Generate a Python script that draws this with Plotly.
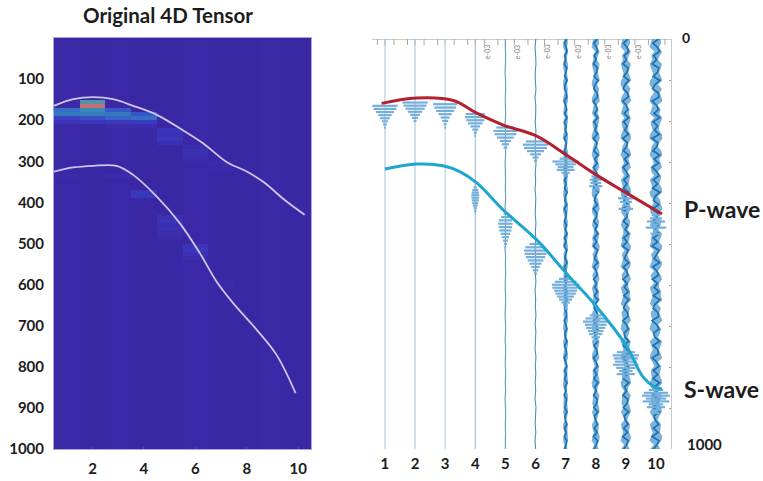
import numpy as np
import plotly.graph_objects as go

W, H = 763, 481
H_EFF = 473  # vertical scale the rendered page shows

# ---- left panel: heat map ----
col_count = 10
row_count = 100
base_level = [0.015, 0.01, 0.015, 0.01, 0.01, 0.015, 0.01, 0.01, 0.015, 0.01]
cell_col = [1, 1, 1, 1,  2, 2, 2, 2, 2, 2,  3, 3, 3, 3, 3,  4, 4, 4, 4,  5, 5, 5, 5,  6, 6, 6, 6,  7, 7,
            1, 3, 4, 4, 5, 5, 5, 5, 5, 5, 6, 6, 6, 6, 7, 7]
cell_row = [17, 18, 19, 20,  15, 16, 17, 18, 19, 20,  17, 18, 19, 20, 21,  18, 19, 20, 21,  22, 23, 24, 25,  26, 27, 28, 29,  30, 31,
            33, 33, 37, 38, 43, 44, 45, 46, 47, 48, 50, 51, 52, 53, 59, 60]
cell_val = [0.38, 0.42, 0.16, 0.08,  0.62, 0.98, 0.50, 0.44, 0.22, 0.10,  0.28, 0.42, 0.34, 0.10, 0.05,  0.26, 0.38, 0.12, 0.05,
            0.09, 0.07, 0.10, 0.06,  0.05, 0.07, 0.05, 0.04,  0.035, 0.03,
            0.035, 0.04, 0.11, 0.11, 0.07, 0.09, 0.06, 0.07, 0.05, 0.04, 0.09, 0.10, 0.07, 0.05, 0.03, 0.03]
heat_colors = [[0, "#3a25a2"], [0.15, "#3b3ec6"], [0.35, "#3268c8"], [0.55, "#3a95b0"], [0.75, "#7c8f9c"], [1, "#cc6a72"]]

left_p_x = [0.5, 1.25, 2.03, 2.8, 3.58, 4.5, 5.53, 6.3, 7.2, 8.0, 8.64, 9.55, 10.25]
left_p_y = [165, 149, 144, 149, 165, 187, 225, 256, 301, 325, 350, 398, 430]
left_s_x = [0.5, 1.25, 2.03, 2.94, 3.58, 4.5, 5.4, 6.18, 6.83, 7.47, 8.39, 9.16, 9.9]
left_s_y = [325, 315, 311, 311, 333, 386, 451, 524, 593, 645, 710, 771, 864]

# ---- right panel: traces ----
trace_ids = [1, 2, 3, 4, 5, 6, 7, 8, 9, 10]
trace_colors = ["#a9cbdf", "#a9c8dc", "#b2d0e2", "#9dbdd2", "#5f9cc0", "#4b90bd", "#5fa3d3", "#5fa3d3", "#5fa3d3", "#5fa3d3"]
trace_fills = {7: "#7ab4dc", 8: "#7ab4dc", 9: "#7ab4dc", 10: "#7ab4dc"}

noise_5 = [1, -1, 2, 0, -2, 1, 2, -1, 0, 2, -2, 1, -1, 2, 1, -2, 0, 1, -1, 2, -2, 0, 2, -1, 1,
           -2, 1, 0, 2, -1, -1, 2, 0, -2, 1, 1, -2, 2, 0, -1, 2, -1, 1, -2, 0, 2, -1, 1, 0, -1]
noise_6 = [2, -3, 1, 3, -2, -1, 3, -3, 2, 1, -2, 3, -1, -3, 2, 3, -2, 1, -3, 2, 0, -2, 3, -1, 2,
           -3, 1, 2, -2, 3, -3, 1, -1, 3, -2, 2, 0, -3, 3, -1, 2, -2, 1, -3, 3, 0, -2, 2, -3, 1]
noise_7 = [5, -6, 3, 7, -4, 1, -7, 6, 2, -5, 7, -2, -6, 4, 6, -7, 1, 5, -4, 7, -6, 3, -2, 6, -7,
           4, 2, -6, 7, -3, 5, -7, 1, 6, -5, 3, -6, 7, -1, -4, 6, -7, 4, 2, -6, 5, -2, 7, -5, 3,
           -7, 6, 1, -4, 7, -6, 2, 5, -7, 3, -3, 6, -5, 7, -1, -6, 4, 5, -7, 2, 6, -4, -2, 7, -6,
           3, 5, -7, 1, 6, -5, 4, -6, 7, -3, 2, -7, 5, 3, -6, 7, -4, -1, 6, -5, 4, -7, 6, 2, -5]
noise_8 = [8, -10, 4, 11, -7, 2, -11, 9, 5, -9, 12, -3, -10, 7, 10, -12, 1, 8, -6, 11, -9, 5, -4, 10, -12,
           6, 3, -10, 12, -5, 8, -11, 2, 10, -8, 5, -11, 12, -2, -7, 9, -12, 6, 4, -10, 8, -3, 11, -8, 5,
           -12, 10, 2, -6, 11, -10, 3, 8, -11, 5, -5, 10, -8, 12, -2, -9, 6, 8, -12, 3, 10, -7, -3, 11, -9,
           5, 8, -11, 2, 10, -8, 6, -10, 12, -5, 3, -11, 8, 5, -10, 11, -6, -2, 9, -8, 7, -12, 10, 3, -8]
noise_9 = [11, -13, 6, 15, -9, 3, -15, 12, 7, -12, 16, -4, -14, 9, 13, -16, 2, 11, -8, 15, -12, 7, -6, 14, -16,
           8, 4, -13, 16, -7, 11, -15, 3, 13, -11, 7, -14, 16, -3, -10, 12, -16, 8, 5, -13, 11, -4, 15, -11, 7,
           -16, 13, 3, -8, 15, -13, 4, 11, -15, 7, -7, 13, -11, 16, -3, -12, 8, 11, -16, 4, 13, -9, -4, 15, -12,
           7, 11, -15, 3, 13, -11, 8, -13, 16, -7, 4, -15, 11, 7, -13, 15, -8, -3, 12, -11, 9, -16, 13, 4, -11]
noise_10 = [14, -16, 8, 19, -12, 4, -19, 15, 9, -15, 20, -5, -18, 12, 16, -20, 3, 14, -10, 19, -15, 9, -8, 18, -20,
            10, 5, -16, 20, -9, 14, -19, 4, 16, -14, 9, -18, 20, -4, -13, 15, -20, 10, 6, -16, 14, -5, 19, -14, 9,
            -20, 16, 4, -10, 19, -16, 5, 14, -19, 9, -9, 16, -14, 20, -4, -15, 10, 14, -20, 5, 16, -12, -5, 19, -15,
            9, 14, -19, 4, 16, -14, 10, -16, 20, -9, 5, -19, 14, 9, -16, 19, -10, -4, 15, -14, 12, -20, 16, 5, -14]
trace_noise = {5: noise_5, 6: noise_6, 7: noise_7, 8: noise_8, 9: noise_9, 10: noise_10}

# wavelets: arrival top and bottom (depth), half-width envelope top-to-bottom (trace units)
p_top = [163, 155, 159, 183, 216, 250, 292, 335, 380, 430]
p_bottom = [216, 200, 216, 236, 265, 297, 333, 375, 423, 475]
p_env = [
    [0.42, 0.38, 0.30, 0.22, 0.16, 0.10, 0.06, 0.03],
    [0.42, 0.38, 0.32, 0.24, 0.16, 0.10, 0.05],
    [0.40, 0.36, 0.30, 0.22, 0.15, 0.10, 0.05, 0.03],
    [0.32, 0.34, 0.30, 0.24, 0.16, 0.10, 0.05, 0.03],
    [0.30, 0.40, 0.36, 0.28, 0.18, 0.12, 0.06],
    [0.32, 0.42, 0.38, 0.28, 0.18, 0.10, 0.05],
    [0.20, 0.44, 0.34, 0.26, 0.30, 0.14, 0.08],
    [0.14, 0.20, 0.18, 0.22, 0.12, 0.06],
    [0.16, 0.26, 0.20, 0.12, 0.24, 0.10],
    [0.14, 0.20, 0.30, 0.12, 0.34, 0.10, 0.18],
]
s_top = [None, None, None, 362, 426, 500, 585, 674, 764, 856]
s_bottom = [None, None, None, 425, 508, 572, 657, 735, 825, 912]
s_env = [
    [], [], [],
    [0.05, 0.10, 0.12, 0.13, 0.13, 0.12, 0.10, 0.08, 0.05, 0.04, 0.02],
    [0.06, 0.14, 0.22, 0.24, 0.22, 0.20, 0.16, 0.12, 0.08, 0.05, 0.03],
    [0.20, 0.34, 0.38, 0.36, 0.32, 0.26, 0.20, 0.14, 0.09, 0.05],
    [0.22, 0.36, 0.46, 0.44, 0.38, 0.34, 0.28, 0.22, 0.14, 0.08, 0.04],
    [0.20, 0.34, 0.42, 0.36, 0.32, 0.26, 0.22, 0.14, 0.08],
    [0.30, 0.44, 0.40, 0.36, 0.42, 0.32, 0.22, 0.30, 0.12],
    [0.24, 0.40, 0.46, 0.34, 0.44, 0.24, 0.30, 0.14, 0.10],
]

right_p_x = [0.89, 2.05, 3.27, 4.05, 4.93, 6.04, 7.03, 8.03, 9.03, 10.2]
right_p_y = [157, 144, 150, 181, 210, 237, 283, 332, 376, 427]
right_s_x = [1, 2.05, 2.93, 3.5, 4.05, 4.93, 6.04, 7.08, 8.03, 9.03, 9.57, 9.97, 10.2]
right_s_y = [317, 305, 309, 324, 351, 417, 490, 576, 653, 750, 824, 849, 854]

top_tick_x = [0.75, 1.0, 1.3, 1.75, 2.0, 2.3, 2.75, 3.0, 3.3, 3.75, 4.0, 4.3, 4.75, 5.0, 5.3,
              5.75, 6.0, 6.3, 6.75, 7.0, 7.3, 7.75, 8.0, 8.3, 8.75, 9.0, 9.3, 9.75, 10.0, 10.3]
exponent_x = [4.39, 5.39, 6.4, 7.4, 8.4, 9.4]
exponent_text = "e-03"

left_x_ticks = [2, 4, 6, 8, 10]
left_y_ticks = [100, 200, 300, 400, 500, 600, 700, 800, 900, 1000]
right_y_ticks = [0, 100, 200, 300, 400, 500, 600, 700, 800, 900, 1000]

FONT = "Lato"
INK = "#1c1c1c"


def py(p):
    return 1 - p / H_EFF


z = np.zeros((row_count, col_count)) + np.array(base_level)
for c, r, v in zip(cell_col, cell_row, cell_val):
    z[r, c - 1] = v

fig = go.Figure()
fig.add_trace(go.Heatmap(
    z=z, x=list(range(1, col_count + 1)), y=[5 + 10 * i for i in range(row_count)],
    colorscale=heat_colors, zmin=0, zmax=1, showscale=False, xaxis="x", yaxis="y",
))
for xs, ys in ((left_p_x, left_p_y), (left_s_x, left_s_y)):
    fig.add_trace(go.Scatter(x=xs, y=ys, mode="lines", xaxis="x", yaxis="y", showlegend=False,
                             line=dict(color="#cfc6ee", width=1.8, shape="spline")))

# baseline along the top of the right panel
fig.add_trace(go.Scatter(x=[0.57, 10.5], y=[0, 0], mode="lines", xaxis="x2", yaxis="y2", showlegend=False,
                         line=dict(color="#9a9a9a", width=1)))
fig.add_trace(go.Scatter(x=top_tick_x, y=[6] * len(top_tick_x), mode="markers", xaxis="x2", yaxis="y2",
                         showlegend=False, marker=dict(symbol="line-ns", size=5, line=dict(color="#a8a8a8", width=1))))

for i, tid in enumerate(trace_ids):
    noise = trace_noise.get(tid)
    if noise is None:
        fig.add_trace(go.Scatter(x=[tid, tid], y=[0, 1000], mode="lines", xaxis="x2", yaxis="y2",
                                 showlegend=False, line=dict(color=trace_colors[i], width=1.1)))
        continue
    depth = np.linspace(0, 1000, len(noise)).tolist()
    if tid in trace_fills:
        # pale ragged band whose two edges come from the read-off noise list
        rotated = noise[13:] + noise[:13]
        right_edge = [tid + abs(n) / 100 for n in noise]
        left_edge = [tid - abs(n) / 100 for n in rotated]
        fig.add_trace(go.Scatter(x=right_edge + left_edge[::-1], y=depth + depth[::-1], mode="lines",
                                 fill="toself", fillcolor=trace_fills[tid], xaxis="x2", yaxis="y2",
                                 showlegend=False,
                                 line=dict(color=trace_colors[i], width=0.7, simplify=False)))
        # darker wiggle running through the band
        core = [tid + n / 160 for n in noise]
        fig.add_trace(go.Scatter(x=core, y=depth, mode="lines", xaxis="x2", yaxis="y2", showlegend=False,
                                 line=dict(color="#1f6fae", width=1.7, simplify=False)))
    else:
        thin = [tid + n / 200 for n in noise]
        fig.add_trace(go.Scatter(x=thin, y=depth, mode="lines", xaxis="x2", yaxis="y2", showlegend=False,
                                 line=dict(color=trace_colors[i], width=1.1, simplify=False)))

for tops, bots, envs in ((p_top, p_bottom, p_env), (s_top, s_bottom, s_env)):
    for tid, t, b, env in zip(trace_ids, tops, bots, envs):
        if t is None:
            continue
        wx, wy = [], []
        for d, a in zip(np.linspace(t, b, len(env)), env):
            wx += [tid - a, tid + a, None]
            wy += [float(d), float(d), None]
        fig.add_trace(go.Scatter(x=wx, y=wy, mode="lines", xaxis="x2", yaxis="y2", showlegend=False,
                                 line=dict(color="#74aedb", width=2.2)))

fig.add_trace(go.Scatter(x=right_p_x, y=right_p_y, mode="lines", xaxis="x2", yaxis="y2", showlegend=False,
                         line=dict(color="#b3202f", width=3, shape="spline")))
fig.add_trace(go.Scatter(x=right_s_x, y=right_s_y, mode="lines", xaxis="x2", yaxis="y2", showlegend=False,
                         line=dict(color="#1ea6d0", width=3, shape="spline")))

annotations = [
    dict(text="<b>Original 4D Tensor</b>", x=168 / W, y=py(15), xref="paper", yref="paper",
         showarrow=False, xanchor="center", yanchor="middle", font=dict(size=20.5, family=FONT, color=INK)),
    dict(text="<b>0</b>", x=680 / W, y=py(37), xref="paper", yref="paper", showarrow=False,
         xanchor="left", yanchor="middle", font=dict(size=14, family=FONT, color=INK)),
    dict(text="<b>1000</b>", x=685 / W, y=py(444), xref="paper", yref="paper", showarrow=False,
         xanchor="left", yanchor="middle", font=dict(size=15, family=FONT, color=INK)),
    dict(text="<b>P-wave</b>", x=682 / W, y=py(209), xref="paper", yref="paper", showarrow=False,
         xanchor="left", yanchor="middle", font=dict(size=23, family=FONT, color=INK)),
    dict(text="<b>S-wave</b>", x=682 / W, y=py(389), xref="paper", yref="paper", showarrow=False,
         xanchor="left", yanchor="middle", font=dict(size=23, family=FONT, color=INK)),
]
for ex in exponent_x:
    annotations.append(dict(text=exponent_text, x=ex, y=32, xref="x2", yref="y2", showarrow=False,
                            textangle=-90, font=dict(size=7, family=FONT, color="#808080")))

fig.update_layout(
    width=W, height=H, autosize=False, margin=dict(l=0, r=0, t=0, b=0),
    paper_bgcolor="white", plot_bgcolor="white", showlegend=False,
    font=dict(family=FONT, color=INK),
    xaxis=dict(domain=[54 / W, 311 / W], anchor="y", range=[0.5, 10.5], tickvals=left_x_ticks,
               ticks="inside", ticklen=2, tickcolor="#5a4db5", showgrid=False, zeroline=False,
               showline=True, linecolor="#aaa6d8", linewidth=1, mirror=True,
               tickfont=dict(size=15, family=FONT, weight="bold", color=INK), ticklabelstandoff=6),
    yaxis=dict(domain=[py(449), py(38)], anchor="x", range=[1000, 0], tickvals=left_y_ticks,
               ticks="", showgrid=False, zeroline=False, showline=True, linecolor="#aaa6d8", linewidth=1,
               mirror=True, tickfont=dict(size=15, family=FONT, weight="bold", color=INK), ticklabelstandoff=6),
    xaxis2=dict(domain=[372 / W, 671 / W], anchor="y2", range=[0.57, 10.5], tickvals=trace_ids,
                ticks="", showgrid=False, zeroline=False, showline=False,
                tickfont=dict(size=15, family=FONT, weight="bold", color=INK), ticklabelstandoff=4),
    yaxis2=dict(domain=[py(449), py(39)], anchor="x2", side="right", range=[1000, 0],
                tickvals=right_y_ticks, ticks="inside", ticklen=2, tickcolor="#a0a0a0", showticklabels=False,
                showgrid=False, zeroline=False, showline=True, linecolor="#c8c8c8", linewidth=1),
    annotations=annotations,
)

fig.write_html("out.html", config={"displayModeBar": False},
               post_script="document.body.style.margin='0';")
